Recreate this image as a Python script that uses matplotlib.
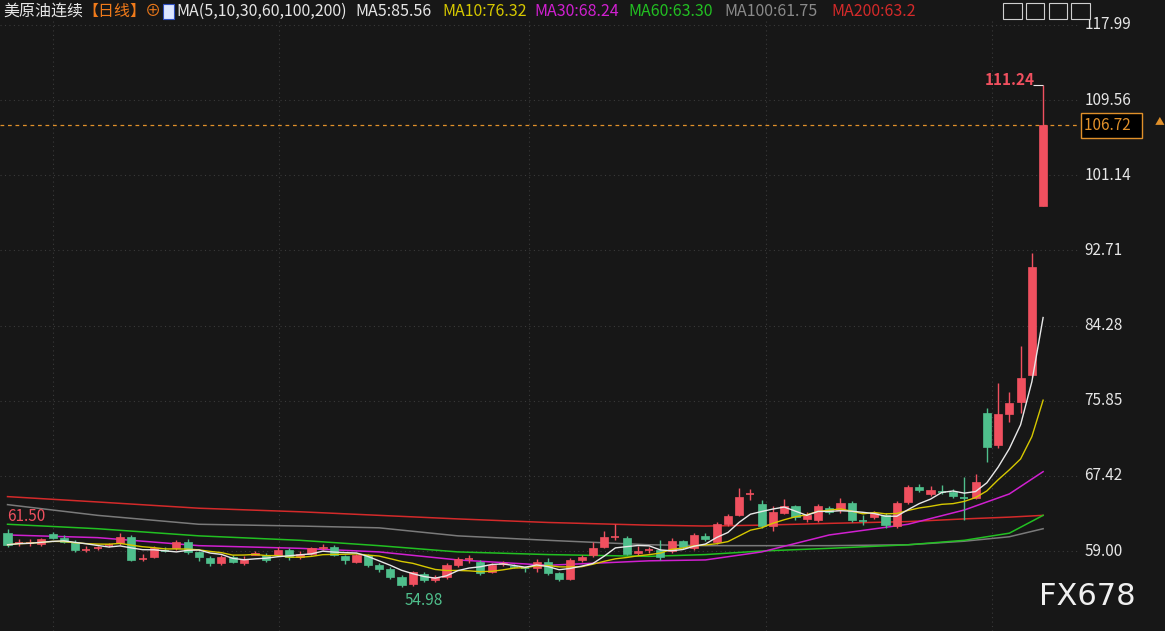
import numpy as np
import pandas as pd
import matplotlib.pyplot as plt
from matplotlib.patches import Rectangle

plt.rcParams['font.family'] = ['Noto Sans CJK SC', 'DejaVu Sans']

BG = "#171717"
UP = "#f0505f"
DN = "#4fbf8c"

# daily candles
opens = [61.0, 59.9, 59.9, 59.8, 60.9, 60.5, 60.0, 59.1, 59.3, 59.6,
         59.9, 60.6, 58.1, 58.3, 59.1, 59.3, 60.0, 58.9, 58.2, 57.6,
         58.3, 57.7, 58.6, 58.6, 58.6, 59.1, 58.3, 58.7, 59.3, 59.5,
         58.4, 57.8, 58.5, 57.4, 57.0, 56.1, 55.3, 56.4, 55.7, 56.1,
         57.4, 58.0, 57.8, 56.7, 57.5, 57.35, 57.1, 57.1, 57.8, 56.5,
         55.9, 58.0, 58.5, 59.5, 60.5, 60.5, 58.8, 59.0, 59.1, 59.0,
         60.1, 59.3, 60.7, 60.0, 62.0, 63.0, 65.3, 64.3, 61.8, 63.3,
         64.0, 62.6, 62.5, 63.8, 63.6, 64.4, 62.45, 62.8, 63.0, 61.8,
         64.5, 66.2, 65.4, 65.7, 65.6, 65.05, 65.0, 74.5, 70.9, 74.4,
         75.7, 78.7, 97.7]
closes = [59.7, 59.95, 59.95, 60.3, 60.5, 60.0, 59.1, 59.15, 59.35, 59.65,
          60.6, 58.0, 58.15, 59.3, 59.05, 60.0, 58.9, 58.3, 57.6, 58.3,
          57.8, 58.1, 58.8, 58.0, 59.1, 58.3, 58.7, 59.3, 59.5, 58.6,
          58.0, 58.5, 57.4, 57.0, 56.1, 55.2, 56.6, 55.8, 56.1, 57.4,
          58.1, 58.05, 56.5, 57.4, 57.7, 57.25, 57.05, 57.8, 56.5, 55.9,
          58.0, 58.3, 59.3, 60.6, 60.55, 58.7, 58.95, 59.1, 58.3, 60.1,
          59.4, 60.8, 60.3, 62.0, 62.9, 65.1, 65.35, 61.8, 63.4, 64.0,
          62.8, 63.0, 64.0, 63.4, 64.4, 62.5, 62.4, 63.3, 61.9, 64.4,
          66.2, 65.8, 65.8, 65.65, 65.2, 65.0, 66.7, 70.7, 74.4, 75.6,
          78.4, 90.8, 106.72]
highs = [61.5, 60.4, 60.3, 60.5, 61.1, 60.8, 60.2, 59.6, 59.6, 59.9,
         61.0, 60.8, 58.7, 59.6, 59.4, 60.2, 60.3, 59.0, 58.4, 58.6,
         58.5, 58.4, 59.0, 58.8, 59.4, 59.3, 59.0, 59.5, 59.8, 59.7,
         58.6, 58.7, 58.7, 57.6, 57.2, 56.3, 56.8, 56.6, 56.3, 57.6,
         58.3, 58.6, 58.0, 57.6, 57.9, 57.5, 57.3, 58.1, 58.2, 56.6,
         58.2, 58.6, 60.0, 61.2, 62.0, 60.7, 59.6, 59.5, 60.2, 60.5,
         60.2, 61.0, 61.0, 62.2, 63.2, 66.1, 66.0, 64.7, 64.0, 64.8,
         64.2, 63.4, 64.3, 64.0, 64.9, 64.6, 63.0, 63.5, 63.3, 64.6,
         66.4, 66.5, 66.3, 66.4, 65.9, 67.3, 67.6, 75.0, 77.8, 76.8,
         82.0, 92.4, 111.24]
lows = [59.5, 59.6, 59.6, 59.6, 60.3, 59.9, 58.9, 58.9, 59.1, 59.4,
        59.7, 57.9, 57.9, 58.2, 58.9, 59.1, 58.7, 57.9, 57.3, 57.4,
        57.6, 57.4, 58.5, 57.8, 58.4, 58.0, 58.1, 58.5, 59.1, 58.4,
        57.5, 57.6, 57.2, 56.7, 55.9, 54.98, 55.1, 55.5, 55.5, 55.9,
        57.2, 57.7, 56.3, 56.5, 57.3, 57.1, 56.7, 56.7, 56.3, 55.6,
        55.8, 57.8, 58.3, 59.3, 60.2, 58.5, 58.6, 58.8, 58.0, 58.8,
        59.2, 59.1, 60.1, 59.8, 61.8, 62.9, 64.7, 61.6, 61.2, 63.1,
        62.5, 62.3, 62.2, 63.2, 63.3, 62.3, 61.9, 62.6, 61.6, 61.6,
        64.3, 65.6, 65.2, 65.4, 64.9, 62.5, 64.8, 69.0, 70.5, 73.5,
        74.5, 78.5, 97.7]

# long moving averages, read at a few candle positions (history not shown)
ma_idx = [0, 8, 17, 26, 33, 40, 48, 57, 62, 67, 73, 80, 85, 89, 92]
ma30 = [60.8, 60.5, 59.6, 59.3, 58.9, 58.0, 57.4, 57.9, 58.0, 58.9, 60.8, 62.0, 63.6, 65.4, 67.9]
ma60 = [62.0, 61.5, 60.7, 60.2, 59.6, 58.9, 58.6, 58.4, 58.6, 59.0, 59.3, 59.7, 60.2, 61.0, 63.0]
ma100 = [64.2, 63.0, 62.0, 61.8, 61.6, 60.7, 60.2, 59.7, 59.6, 59.6, 59.6, 59.7, 60.1, 60.6, 61.5]
ma200 = [65.1, 64.5, 63.8, 63.4, 63.0, 62.6, 62.2, 61.9, 61.8, 61.9, 62.1, 62.3, 62.6, 62.8, 63.0]

ticks = [59.00, 67.42, 75.85, 84.28, 92.71, 101.14, 109.56, 117.99]
month_lines = [4.06, 24.1, 46.3, 67.4, 87.5]

n = len(closes)
x = np.arange(n)
cl = pd.Series(closes)
ma5 = cl.rolling(5, min_periods=1).mean()
ma10 = cl.rolling(10, min_periods=1).mean()

fig = plt.figure(figsize=(11.65, 6.31), dpi=100, facecolor=BG)
ax = fig.add_axes([0, 0, 1078 / 1165, 611 / 631], facecolor=BG)
ax.set_xlim(-0.67, 95.1)
ax.set_ylim(50.03, 118.55)
for s in ax.spines.values():
    s.set_visible(False)
ax.set_xticks([]); ax.set_yticks([])

for t in ticks:
    ax.axhline(t, color="#3a3a3a", lw=0.8, ls=(0, (1, 3)), zorder=0)
for m in month_lines:
    ax.axvline(m, color="#3a3a3a", lw=0.8, ls=(0, (1, 3)), zorder=0)

ax.plot(ma_idx, ma200, color="#d42a2a", lw=1.1, zorder=1)
ax.plot(ma_idx, ma100, color="#7a7a7a", lw=1.1, zorder=1)
ax.plot(ma_idx, ma60, color="#22c022", lw=1.1, zorder=1)
ax.plot(ma_idx, ma30, color="#d020d0", lw=1.1, zorder=1)
ax.plot(x, ma10, color="#d6c800", lw=1.0, zorder=3)
ax.plot(x, ma5, color="#e8e8e8", lw=1.0, zorder=3)

w = 0.72
for i in range(n):
    o, c, h, l = opens[i], closes[i], highs[i], lows[i]
    col = UP if c >= o else DN
    ax.vlines(i, l, h, color=col, lw=1.0, zorder=2)
    bot, ht = min(o, c), abs(c - o)
    if ht < 0.12:
        ax.hlines(c, i - w / 2, i + w / 2, color=col, lw=1.2, zorder=2)
    else:
        ax.add_patch(Rectangle((i - w / 2, bot), w, ht, fc=col, ec=col, lw=0.5, zorder=2))

# last price line
last = closes[-1]
ax.axhline(last, color="#e0902a", lw=0.9, ls=(0, (3, 3)), zorder=1)

# extremes
ax.text(0.0, 61.9, "61.50", color=UP, fontsize=11, ha="left", va="bottom")
ax.text(35.3, 54.4, "54.98", color=DN, fontsize=11, ha="left", va="top")
i_hi = int(np.argmax(highs))
ax.hlines(highs[i_hi], i_hi - 0.9, i_hi, color="#e8e8e8", lw=0.8)
ax.text(i_hi - 3.0, highs[i_hi] + 0.6, f"{highs[i_hi]:.2f}", color=UP, fontsize=11,
        fontweight="bold", ha="center", va="center")

# right axis labels
for t in ticks:
    ax.text(1.006, t, f"{t:.2f}", transform=ax.get_yaxis_transform(), color="#e6e6e6",
            fontsize=11, ha="left", va="center", clip_on=False)
ax.text(1.006, last, f"{last:.2f}  ", transform=ax.get_yaxis_transform(), color="#e0902a",
        fontsize=11, ha="left", va="center", clip_on=False,
        bbox=dict(boxstyle="square,pad=0.25", fc="#000000", ec="#e0902a", lw=1))
fig.text(0.9955, 0.808, "▲", color="#e0902a", fontsize=7, ha="center", va="center")

fig.text(0.975, 0.055, "FX678", color="#f0f0f0", fontsize=22, ha="right", va="center",
         family="DejaVu Sans")

# header
parts = [("美原油连续", "#e6e6e6", 0.003), ("【日线】", "#f07a1a", 0.071),
         ("⊕", "#f07a1a", 0.124), ("MA(5,10,30,60,100,200)", "#e6e6e6", 0.151),
         ("MA5:85.56", "#e6e6e6", 0.305), ("MA10:76.32", "#d6c800", 0.380),
         ("MA30:68.24", "#d020d0", 0.459), ("MA60:63.30", "#22c022", 0.539),
         ("MA100:61.75", "#8a8a8a", 0.622), ("MA200:63.2", "#d42a2a", 0.714)]
for s, c, xp in parts:
    fig.text(xp, 0.982, s, color=c, fontsize=11.5, ha="left", va="center")
fig.patches.append(Rectangle((0.1395, 0.970), 0.010, 0.024, transform=fig.transFigure,
                             fc="#dde6ff", ec="#3050c0", lw=0.8))
for k in range(4):
    fig.patches.append(Rectangle((0.861 + k * 0.0195, 0.970), 0.016, 0.026,
                                 transform=fig.transFigure, fc=BG, ec="#cfcfcf", lw=0.8))

fig.savefig("out.png", dpi=100, facecolor=BG)
